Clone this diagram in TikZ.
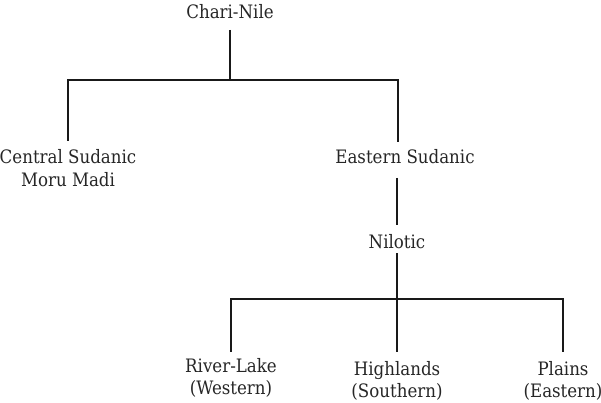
\documentclass[tikz,border=0pt]{standalone}
\usepackage{fontspec}
\setmainfont{DejaVu Serif Condensed}
\begin{document}
\begin{tikzpicture}[x=1pt,y=-1pt,
  lbl/.style={font=\fontsize{18.5}{22}\selectfont, align=center, inner sep=0pt, anchor=base, text=black!85},
  branch/.style={draw=black!90, line width=2.8pt, line cap=butt, line join=miter}]
  \useasboundingbox (0,0) rectangle (601,403);

  % labels (base anchor = baseline of the last line)
  \node[lbl] (root) at (230,19) {Chari-Nile};
  \node[lbl] (cs)   at (68,186) {Central Sudanic\\Moru Madi};
  \node[lbl] (es)   at (405,164) {Eastern Sudanic};
  \node[lbl] (nil)  at (397,248) {Nilotic};
  \node[lbl] (rl)   at (231,394) {River-Lake\\(Western)};
  \node[lbl] (hl)   at (397,397) {Highlands\\(Southern)};
  \node[lbl] (pl)   at (563,397) {Plains\\(Eastern)};

  % junctions of the two splits
  \coordinate (j1) at (230,80);
  \coordinate (j2) at (397,299);

  % Chari-Nile splits in two
  \draw[branch] ([yshift=-11pt]root.base) -- (j1);
  \draw[branch] ([yshift=9pt]cs.north) |- (j1) -| ([xshift=-7pt,yshift=8pt]es.north);

  % Eastern Sudanic to Nilotic
  \draw[branch] ([xshift=-8pt,yshift=-14pt]es.base) -- ([yshift=9pt]nil.north);
  \draw[branch] ([yshift=-5pt]nil.south) -- (j2);

  % Nilotic splits in three
  \draw[branch] ([yshift=6pt]rl.north) |- (j2) -| ([yshift=9pt]pl.north);
  \draw[branch] (j2) -- ([yshift=9pt]hl.north);
\end{tikzpicture}
\end{document}
